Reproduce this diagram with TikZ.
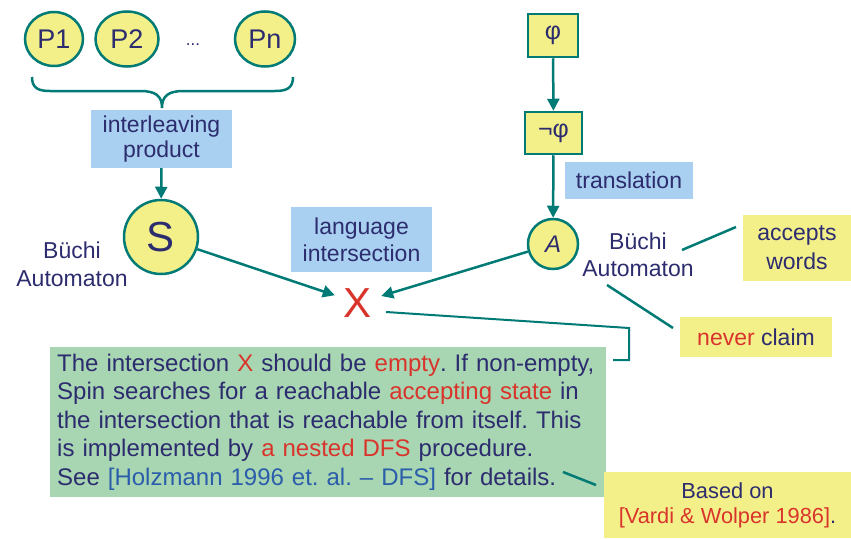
\documentclass[tikz,border=0pt]{standalone}
\usepackage{fontspec}
\setmainfont{Liberation Sans}
\usetikzlibrary{arrows.meta,positioning,shapes.geometric}

\definecolor{tealline}{RGB}{0,122,116}
\definecolor{yellowfill}{RGB}{243,240,138}
\definecolor{bluefill}{RGB}{169,208,240}
\definecolor{greenfill}{RGB}{168,213,178}
\definecolor{navy}{RGB}{44,44,110}
\definecolor{redtxt}{RGB}{217,52,43}
\definecolor{linkblue}{RGB}{42,93,170}

\begin{document}
\frenchspacing
\begin{tikzpicture}[x=1pt,y=1pt,yscale=-1,xscale=1,
  proc/.style = {draw=tealline, line width=2.5pt, ellipse,
  fill=yellowfill, text=navy, inner sep=0pt,
  font=\fontsize{27}{27}\selectfont},
  state/.style = {draw=tealline, line width=2.5pt, circle,
  fill=yellowfill, text=navy, inner sep=0pt},
  formula/.style = {draw=tealline, line width=2.5pt, rectangle,
  fill=yellowfill, text=navy, inner sep=0pt,
  font=\fontsize{25}{25}\selectfont},
  bluebox/.style = {fill=bluefill, text=navy, inner sep=0pt, align=center,
  font=\fontsize{23}{25}\selectfont},
  yellowbox/.style = {fill=yellowfill, text=navy, inner sep=0pt, align=center,
  font=\fontsize{23}{29}\selectfont},
  plain/.style = {text=navy, inner sep=0pt, align=center,
  font=\fontsize{23}{28}\selectfont},
  link/.style = {draw=tealline, line width=2.5pt},
  arr/.style = {link, -{Triangle[length=12pt,width=12pt]}}
  ]

  % processes and their product
  \node[proc, minimum width=58, minimum height=54] (p1) at (54,39) {P1};
  \node[proc, minimum width=63, minimum height=55] (p2) at (127,39) {P2};
  \node[text=navy, font=\fontsize{17}{17}\selectfont] (dots) at (193,45) {...};
  \node[proc, minimum width=60, minimum height=55] (pn) at (265,39) {Pn};

  \draw[link] (32,77) .. controls (32,88) and (38,91) .. (50,91) -- (140,91)
    .. controls (156,91) and (162,96) .. (162,108)
    .. controls (162,96) and (168,91) .. (184,91) -- (275,91)
    .. controls (287,91) and (293,88) .. (293,77);

  \node[bluebox, minimum width=141, minimum height=58] (interleave) at (161.5,139) {interleaving\\product};
  \node[state, minimum size=74, font=\fontsize{42}{42}\selectfont] (s) at (161,237) {S};
  \node[plain] (buechiS) at (72,264) {Büchi\\Automaton};

  % formula side
  \node[formula, minimum width=50, minimum height=43] (phi) at (553,35.5) {φ};
  \node[formula, minimum width=57, minimum height=42] (negphi) at (553.5,133) {¬φ};
  \node[bluebox, minimum width=128, minimum height=37] (translation) at (629,180.5) {translation};
  \node[state, minimum size=50, font=\fontsize{24}{24}\selectfont] (a) at (553,244) {\textit{A}};
  \node[plain, font=\fontsize{23}{27}\selectfont] (buechiA) at (638,255) {Büchi\\Automaton};
  \node[yellowbox, minimum width=108, minimum height=66] (accepts) at (797,248) {accepts\\words};
  \node[yellowbox, minimum width=152, minimum height=40] (never) at (756,337) {\textcolor{redtxt}{never} claim};

  % intersection
  \node[bluebox, font=\fontsize{23}{27}\selectfont, minimum width=141, minimum height=65] (langint) at (361.5,239.5) {language\\intersection};
  \node[text=redtxt, inner xsep=9pt, inner ysep=0pt, font=\fontsize{42}{42}\selectfont] (x) at (358,303) {X};

  \node[fill=greenfill, text=navy, anchor=north west, align=left,
    minimum width=556, minimum height=150, text width=542, inner xsep=7pt, inner ysep=5pt,
    font=\fontsize{24}{28.5}\selectfont] (note) at (50,347)
    {The intersection \textcolor{redtxt}{X} should be \textcolor{redtxt}{empty}. If non-empty,\\
     Spin searches for a reachable \textcolor{redtxt}{accepting state} in\\
     the intersection that is reachable from itself. This\\
     is implemented by \textcolor{redtxt}{a nested DFS} procedure.\\
     See \textcolor{linkblue}{[Holzmann 1996 et. al. – DFS]} for details.};
  \node[yellowbox, font=\fontsize{21.8}{25}\selectfont, minimum width=247, minimum height=66] (based) at (727.5,505)
    {Based on\\\textcolor{redtxt}{[Vardi \& Wolper 1986]}.};

  \coordinate (wordsTail) at (682,250);
  \coordinate (wordsHead) at (736,227);
  \coordinate (claimTail) at (607,285);
  \coordinate (claimHead) at (673,328);
  \coordinate (xTail) at (386,312);
  \coordinate (brkA) at (629,328);
  \coordinate (brkB) at (629,360);
  \coordinate (brkC) at (613,360);
  \coordinate (detailTail) at (563,472);
  \coordinate (detailHead) at (596,485);

  \draw[arr] (interleave) -- (s);
  \draw[arr] (phi) -- (negphi);
  \draw[arr] (negphi) -- (a);
  \draw[arr] (s) -- (x);
  \draw[arr] (a) -- (x);

  \draw[link] (wordsTail) -- (wordsHead);
  \draw[link] (claimTail) -- (claimHead);
  \draw[link, line width=2pt] (xTail) -- (brkA) -- (brkB) -- (brkC);
  \draw[link] (detailTail) -- (detailHead);

  \useasboundingbox (0,0) rectangle (851,532);
\end{tikzpicture}
\end{document}
